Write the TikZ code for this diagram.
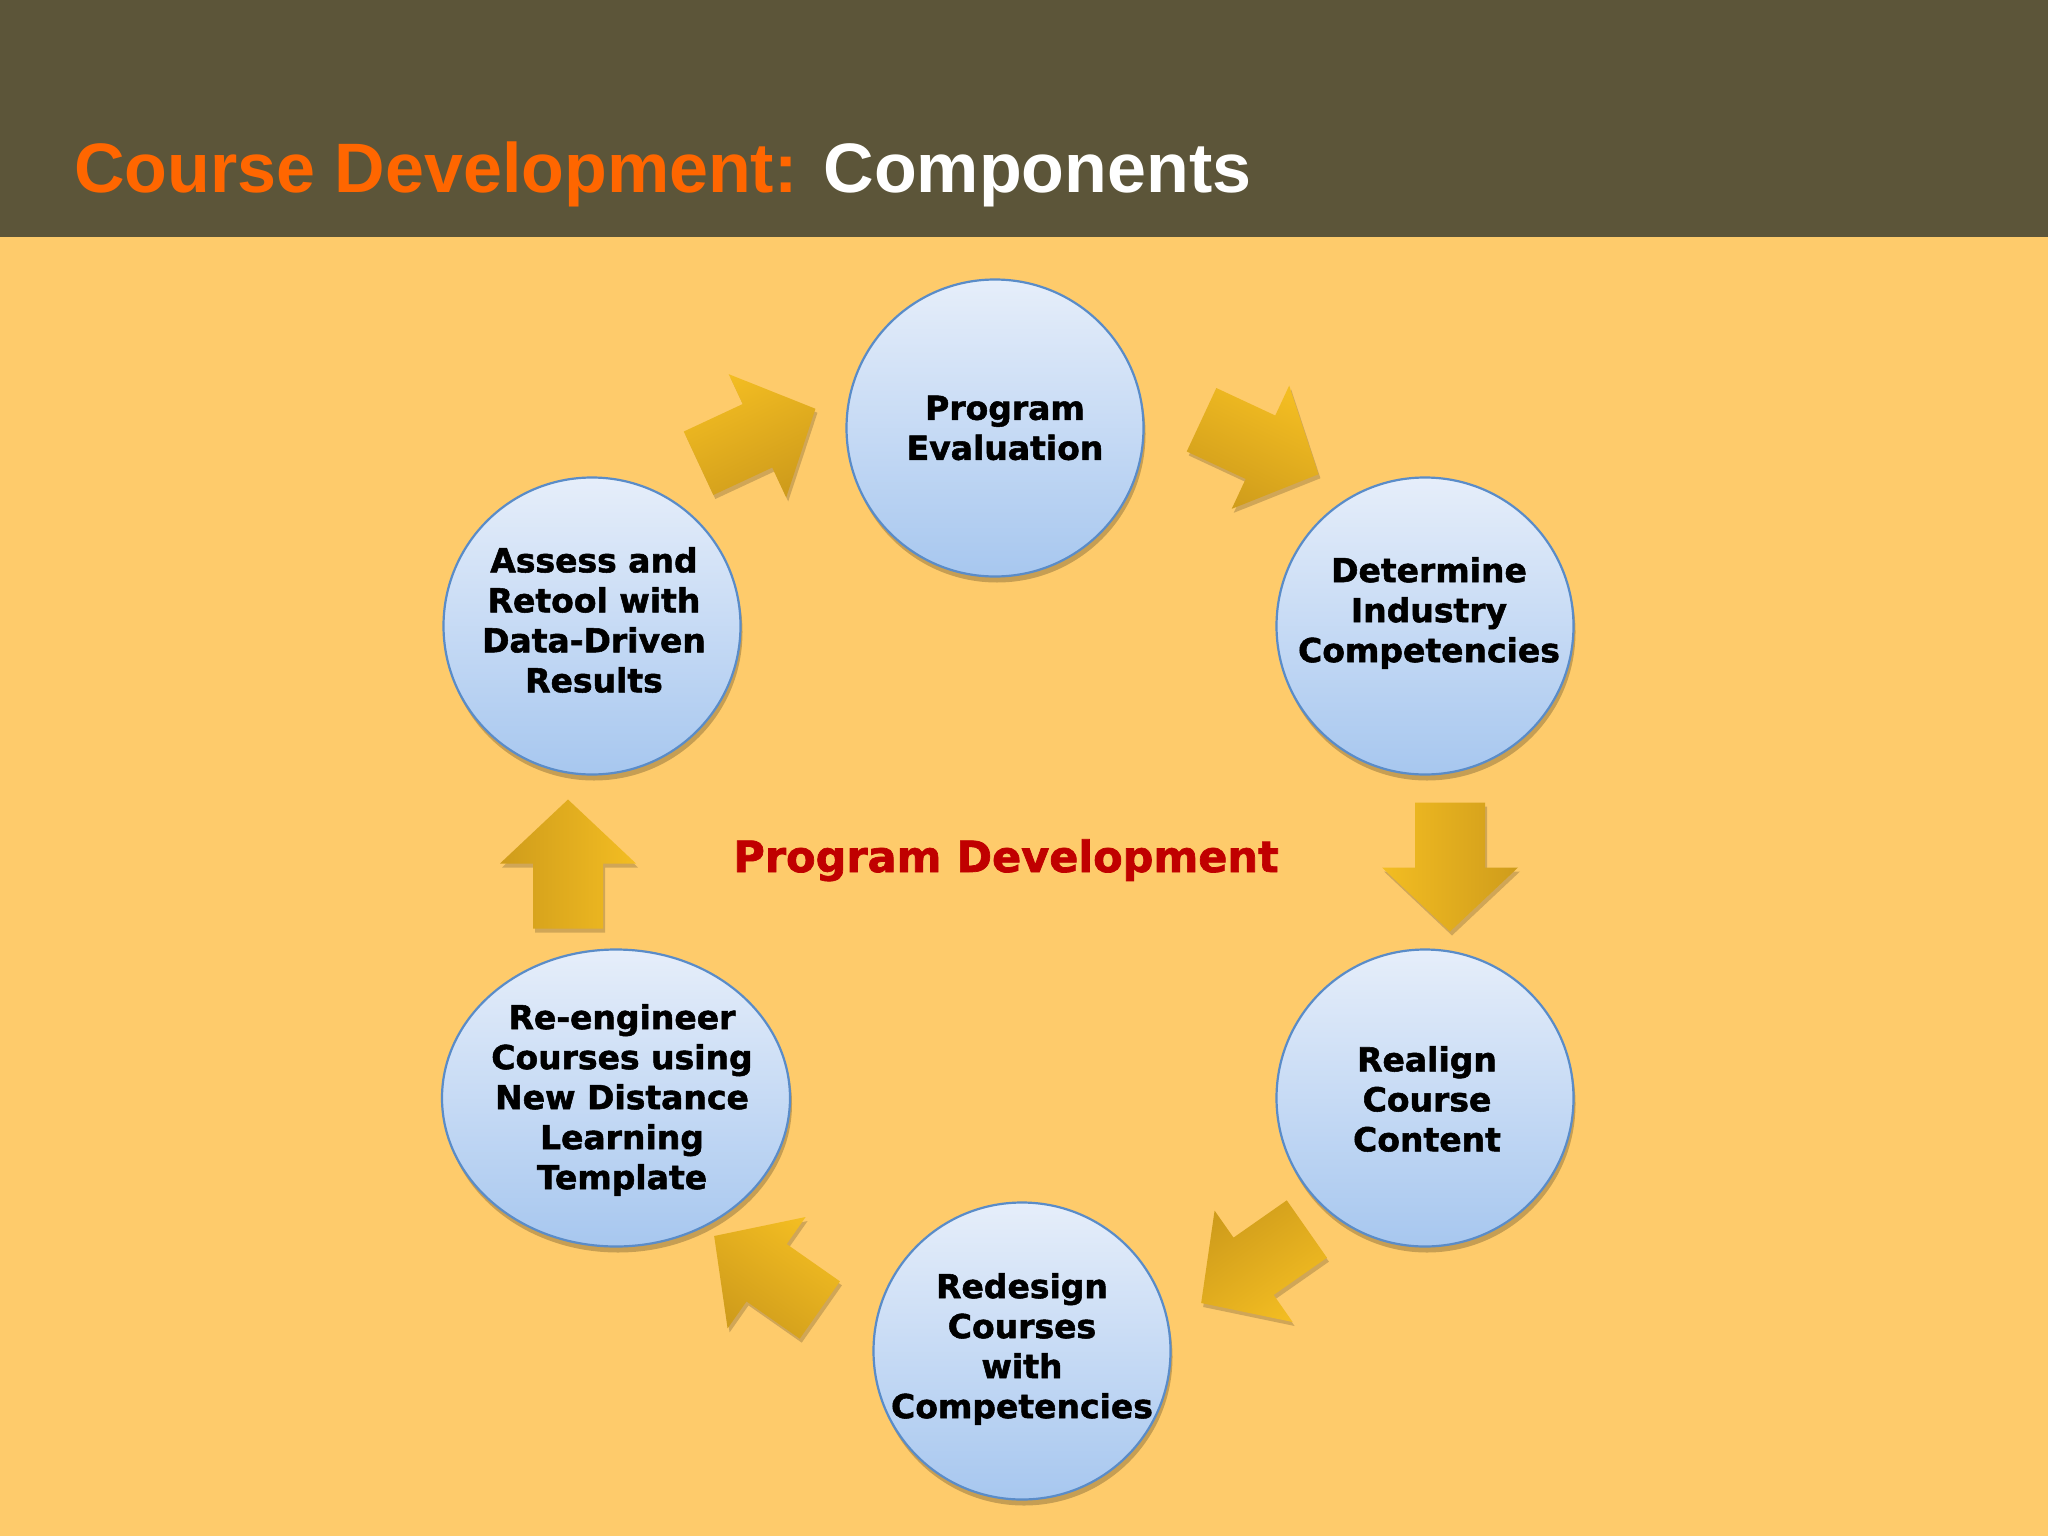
\documentclass[tikz,border=0pt]{standalone}
\usepackage{fontspec}
\usetikzlibrary{shapes.geometric,shadows,calc}
\newfontfamily\titlefont{Liberation Sans}
\newfontfamily\circfont{DejaVu Sans Bold}[FakeBold=1.6]
\definecolor{hdr}{HTML}{5C5539}
\definecolor{bg}{HTML}{FECB6B}
\definecolor{orangeT}{HTML}{FF6600}
\definecolor{redT}{HTML}{C00000}
\definecolor{ctop}{HTML}{E6EEFA}
\definecolor{cbot}{HTML}{A7C7EF}
\definecolor{cline}{HTML}{5A8CC8}
\definecolor{adark}{HTML}{CF9C1B}
\definecolor{alight}{HTML}{F3BD22}
\tikzset{
  circ/.style={circle, minimum size=297pt, inner sep=0pt, draw=cline, line width=2.2pt,
    top color=ctop, bottom color=cbot,
    drop shadow={shadow xshift=2pt, shadow yshift=-6pt, opacity=0.22, fill=black}},
  ellip/.style={ellipse, minimum width=348pt, minimum height=297pt, inner sep=0pt, draw=cline, line width=2.2pt,
    top color=ctop, bottom color=cbot,
    drop shadow={shadow xshift=2pt, shadow yshift=-6pt, opacity=0.22, fill=black}},
  ctext/.style={align=center, inner sep=0pt, font=\circfont\fontsize{33}{40}\selectfont, text=black},
  arrowfill/.style={drop shadow={shadow xshift=2pt, shadow yshift=-4pt, opacity=0.18, fill=black}}
}
\newcommand{\blockarr}[5]{%
  \shade[arrowfill, top color=#4, bottom color=#5, shading angle=#3+0, shift={(#1,#2)}, rotate=#3]
    (-64.5,-35) -- (0.5,-35) -- (0.5,-68) -- (64.5,0) -- (0.5,68) -- (0.5,35) -- (-64.5,35) -- cycle;}
\begin{document}
\begin{tikzpicture}[x=1pt,y=-1pt]
\useasboundingbox (0,0) rectangle (2048,1536);
\fill[bg] (0,0) rectangle (2048,1536);
\fill[hdr] (0,0) rectangle (2048,237);
\node[anchor=base west, inner sep=0pt, font=\titlefont\bfseries\fontsize{70}{80}\selectfont] (title) at (74,192)
  {\textcolor{orangeT}{Course Development:} \textcolor{white}{Components}};
% arrows
\blockarr{757}{436}{25}{alight}{adark}
\blockarr{1260}{447}{-25}{alight}{adark}
\blockarr{1450}{867}{-90}{adark}{alight}
\blockarr{1254}{1266}{215}{alight}{adark}
\blockarr{767}{1273}{145}{adark}{alight}
\blockarr{568}{864}{90}{adark}{alight}
% circles
\node[circ] (pe) at (995,428) {};
\node[circ] (dic) at (1425,626) {};
\node[circ] (rcc) at (1425,1098) {};
\node[circ] (rcw) at (1022,1351) {};
\node[ellip] (rec) at (616,1098) {};
\node[circ] (ar) at (592,626) {};
% texts
\node[ctext] (pe-t) at (1005,428) {Program\\Evaluation};
\node[ctext] (dic-t) at (1429,613) {Determine\\Industry\\Competencies};
\node[ctext] (rcc-t) at (1427,1099) {Realign\\Course\\Content};
\node[ctext] (rcw-t) at (1022,1349) {Redesign\\Courses\\with\\Competencies};
\node[ctext] (rec-t) at (622,1100) {Re-engineer\\Courses using\\New Distance\\Learning\\Template};
\node[ctext] (ar-t) at (594,620) {Assess and\\Retool with\\Data-Driven\\Results};
\node[anchor=base, inner sep=0pt, font=\circfont\fontsize{43}{50}\selectfont, text=redT] (pd) at (1006,872) {Program Development};
\end{tikzpicture}
\end{document}
